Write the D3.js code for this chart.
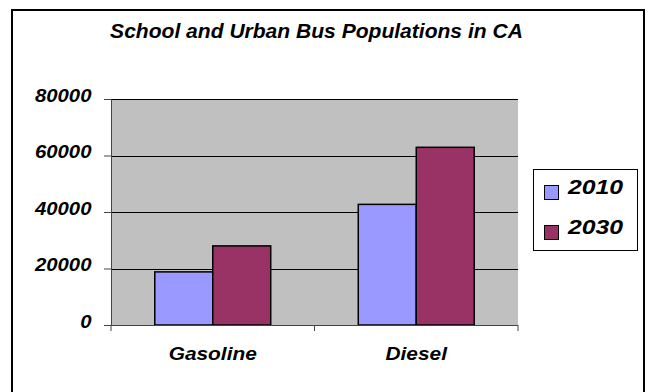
<!DOCTYPE html>
<html>
<head>
<meta charset="utf-8">
<script src="https://cdn.jsdelivr.net/npm/d3@7/dist/d3.min.js"></script>
<style>
  html, body { margin: 0; padding: 0; background: #fff; }
  svg { display: block; font-family: "Liberation Sans", Arial, sans-serif; }
  text { font-weight: bold; font-style: italic; fill: #000; }
</style>
</head>
<body>
<svg id="chart" width="652" height="392"></svg>
<script>
// Bus population data
const categories = ["Gasoline", "Diesel"];
const seriesNames = ["2010", "2030"];
const values2010 = [18800, 42700];
const values2030 = [28000, 62900];
const yTicks = [0, 20000, 40000, 60000, 80000];
const title = "School and Urban Bus Populations in CA";

const colors = ["#9999FF", "#993366"];
const seriesValues = [values2010, values2030];

// Widen text horizontally around its own anchor x
function stretch(sel, sx) {
  sel.each(function () {
    const t = d3.select(this);
    const x0 = +t.attr("x") || 0;
    t.attr("x", x0 / sx).attr("transform", `scale(${sx},1)`);
  });
}

const svg = d3.select("#chart");

// Outer frame
svg.append("rect")
  .attr("x", 12).attr("y", 10)
  .attr("width", 632).attr("height", 390)
  .attr("fill", "#fff").attr("stroke", "#000").attr("stroke-width", 2);

// Title
svg.append("text")
  .attr("x", 316.5).attr("y", 38)
  .attr("text-anchor", "middle")
  .attr("font-size", 19.5)
  .text(title)
  .call(stretch, 1.08);

const plot = { left: 111, right: 518, top: 99, bottom: 325 };

const x = d3.scaleBand()
  .domain(categories)
  .range([plot.left, plot.right])
  .paddingInner(0)
  .paddingOuter(0);

const inner = d3.scaleBand()
  .domain(seriesNames)
  .range([0, x.bandwidth()])
  .paddingInner(0)
  .paddingOuter(0.755);

const y = d3.scaleLinear()
  .domain([0, 80000])
  .range([plot.bottom, plot.top]);

// Plot area background
svg.append("rect")
  .attr("x", plot.left).attr("y", plot.top)
  .attr("width", plot.right - plot.left)
  .attr("height", plot.bottom - plot.top)
  .attr("fill", "#C0C0C0");

// Gridlines
svg.append("g")
  .selectAll("line")
  .data(yTicks.filter(d => d > 0))
  .join("line")
  .attr("x1", plot.left).attr("x2", plot.right)
  .attr("y1", d => Math.round(y(d)) + 0.5).attr("y2", d => Math.round(y(d)) + 0.5)
  .attr("stroke", "#000").attr("stroke-width", 1);

// Bars
const groups = svg.append("g")
  .selectAll("g")
  .data(categories)
  .join("g")
  .attr("transform", d => `translate(${x(d)},0)`);

groups.selectAll("rect")
  .data((d, i) => seriesNames.map((s, j) => ({ s, v: seriesValues[j][i], c: colors[j] })))
  .join("rect")
  .attr("x", d => inner(d.s))
  .attr("width", inner.bandwidth())
  .attr("y", d => y(d.v))
  .attr("height", d => y(0) - y(d.v))
  .attr("fill", d => d.c)
  .attr("stroke", "#000")
  .attr("stroke-width", 1.5);

// Y axis
const yAxis = svg.append("g")
  .attr("transform", `translate(${plot.left},0)`)
  .call(d3.axisLeft(y).tickValues(yTicks).tickSize(7).tickPadding(12.5).tickFormat(d3.format("d")));
yAxis.select(".domain").attr("stroke", "#444");
yAxis.selectAll(".tick line").attr("stroke", "#444");
yAxis.selectAll(".tick text")
  .attr("font-size", 18.5)
  .attr("font-family", "Liberation Sans, Arial, sans-serif")
  .attr("dy", "0.12em")
  .call(stretch, 1.1);

// X axis: baseline and boundary ticks
const xAxis = svg.append("g");
xAxis.append("line")
  .attr("x1", plot.left).attr("x2", plot.right)
  .attr("y1", plot.bottom + 0.5).attr("y2", plot.bottom + 0.5)
  .attr("stroke", "#444");
const boundaries = categories.map(c => x(c)).concat([x(categories[categories.length - 1]) + x.bandwidth()]);
xAxis.selectAll("line.b")
  .data(boundaries)
  .join("line")
  .attr("class", "b")
  .attr("x1", d => d).attr("x2", d => d)
  .attr("y1", plot.bottom).attr("y2", plot.bottom + 6)
  .attr("stroke", "#444");
xAxis.selectAll("text")
  .data(categories)
  .join("text")
  .attr("x", d => x(d) + x.bandwidth() / 2)
  .attr("y", 360)
  .attr("text-anchor", "middle")
  .attr("font-size", 18)
  .text(d => d)
  .call(stretch, 1.16);

// Legend
const legend = svg.append("g");
legend.append("rect")
  .attr("x", 533.5).attr("y", 169.5)
  .attr("width", 104).attr("height", 81)
  .attr("fill", "#fff").attr("stroke", "#000").attr("stroke-width", 1);
const items = legend.selectAll("g")
  .data(seriesNames)
  .join("g")
  .attr("transform", (d, i) => `translate(0,${i * 40})`);
items.append("rect")
  .attr("x", 544.5).attr("y", 185.5)
  .attr("width", 14).attr("height", 14)
  .attr("fill", (d, i) => colors[i])
  .attr("stroke", "#000").attr("stroke-width", 1);
items.append("text")
  .attr("x", 568).attr("y", 194)
  .attr("font-size", 21)
  .text(d => d)
  .call(stretch, 1.18);
</script>
</body>
</html>
